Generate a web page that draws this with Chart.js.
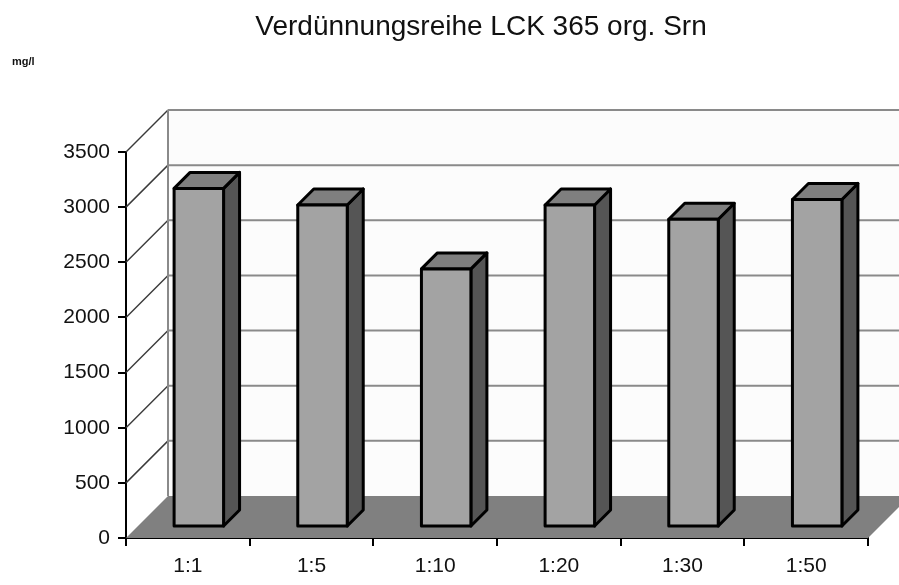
<!DOCTYPE html>
<html>
<head>
<meta charset="utf-8">
<title>Verdünnungsreihe LCK 365 org. Srn</title>
<script src="https://cdn.jsdelivr.net/npm/chart.js@4.4.1/dist/chart.umd.min.js"></script>
<style>
    html, body { margin: 0; padding: 0; background: #ffffff; }
    #wrap { width: 899px; height: 585px; }
</style>
</head>
<body>
<div id="wrap"><canvas id="chartVerd" width="899" height="585"></canvas></div>
<script>
// Verdünnungsstufen und gemessene Werte (mg/l)
const categories = ['1:1', '1:5', '1:10', '1:20', '1:30', '1:50'];
const values = [3070, 2920, 2340, 2920, 2790, 2970];
const yTicks = [0, 500, 1000, 1500, 2000, 2500, 3000, 3500];

const chartTitle = 'Verdünnungsreihe LCK 365 org. Srn';
const unitLabel = 'mg/l';

// Tiefe des Diagramms (Wand) und Lage der Säulen in der Tiefe
const DEPTH = 42;
const BAR_SHIFT = 11;
const BAR_DEPTH = 16;

// Wände, Boden und Gitterlinien in Pseudo-3D
const wallsPlugin = {
    id: 'walls',
    beforeDatasetsDraw(chart) {
        const ctx = chart.ctx;
        const x = chart.scales.x;
        const y = chart.scales.y;
        const left = x.left, right = x.right;
        const y0 = y.getPixelForValue(0);
        const yTop = y.getPixelForValue(yTicks[yTicks.length - 1]);

        ctx.save();
        // Rückwand
        ctx.fillStyle = '#fcfcfc';
        ctx.beginPath();
        ctx.moveTo(left + DEPTH, yTop - DEPTH);
        ctx.lineTo(right + DEPTH, yTop - DEPTH);
        ctx.lineTo(right + DEPTH, y0 - DEPTH);
        ctx.lineTo(left + DEPTH, y0 - DEPTH);
        ctx.closePath();
        ctx.fill();

        // Gitterlinien: schräg auf der Seitenwand, waagerecht an der Rückwand
        yTicks.forEach(function(v) {
            const py = y.getPixelForValue(v);
            if (v > 0) {
                ctx.strokeStyle = '#3a3a3a';
                ctx.lineWidth = 1.5;
                ctx.beginPath();
                ctx.moveTo(left, py);
                ctx.lineTo(left + DEPTH, py - DEPTH);
                ctx.stroke();
                ctx.strokeStyle = '#8a8a8a';
                ctx.lineWidth = 2;
                ctx.beginPath();
                ctx.moveTo(left + DEPTH, py - DEPTH);
                ctx.lineTo(right + DEPTH, py - DEPTH);
                ctx.stroke();
            }
        });

        // linke Kante der Rückwand
        ctx.strokeStyle = '#8a8a8a';
        ctx.lineWidth = 2;
        ctx.beginPath();
        ctx.moveTo(left + DEPTH, yTop - DEPTH);
        ctx.lineTo(left + DEPTH, y0 - DEPTH);
        ctx.stroke();

        // Boden
        ctx.fillStyle = '#808080';
        ctx.beginPath();
        ctx.moveTo(left, y0);
        ctx.lineTo(right, y0);
        ctx.lineTo(right + DEPTH, y0 - DEPTH);
        ctx.lineTo(left + DEPTH, y0 - DEPTH);
        ctx.closePath();
        ctx.fill();
        ctx.restore();
    },
    afterDatasetsDraw(chart) {
        const ctx = chart.ctx;
        const meta = chart.getDatasetMeta(0);
        ctx.save();
        ctx.lineJoin = 'round';
        ctx.lineWidth = 3;
        ctx.strokeStyle = '#000000';
        meta.data.forEach(function(bar) {
            const w = bar.width;
            const x1 = bar.x - w / 2 + BAR_SHIFT;
            const x2 = bar.x + w / 2 + BAR_SHIFT;
            const top = bar.y - BAR_SHIFT;
            const bottom = bar.base - BAR_SHIFT;
            const d = BAR_DEPTH;

            // Seitenfläche
            ctx.fillStyle = '#555555';
            ctx.beginPath();
            ctx.moveTo(x2, top);
            ctx.lineTo(x2 + d, top - d);
            ctx.lineTo(x2 + d, bottom - d);
            ctx.lineTo(x2, bottom);
            ctx.closePath();
            ctx.fill();
            ctx.stroke();

            // Deckfläche
            ctx.fillStyle = '#7f7f7f';
            ctx.beginPath();
            ctx.moveTo(x1, top);
            ctx.lineTo(x1 + d, top - d);
            ctx.lineTo(x2 + d, top - d);
            ctx.lineTo(x2, top);
            ctx.closePath();
            ctx.fill();
            ctx.stroke();

            // Vorderseite
            ctx.fillStyle = '#a3a3a3';
            ctx.fillRect(x1, top, w, bottom - top);
            ctx.strokeRect(x1, top, w, bottom - top);
        });
        ctx.restore();
    },
    afterDraw(chart) {
        const ctx = chart.ctx;
        ctx.save();
        ctx.fillStyle = '#111111';
        ctx.textAlign = 'center';
        ctx.textBaseline = 'middle';
        ctx.font = '28px "Liberation Sans", Arial, sans-serif';
        ctx.fillText(chartTitle, 481, 27);

        ctx.textAlign = 'left';
        ctx.font = 'bold 11px "Liberation Sans", Arial, sans-serif';
        ctx.fillText(unitLabel, 12, 62);
        ctx.restore();
    }
};

document.addEventListener('DOMContentLoaded', function() {
    const canvas = document.getElementById('chartVerd');

    new Chart(canvas, {
        type: 'bar',
        data: {
            labels: categories,
            datasets: [{
                label: 'mg/l',
                data: values,
                backgroundColor: 'rgba(0,0,0,0)',
                borderWidth: 0,
                categoryPercentage: 1.0,
                barPercentage: 0.4
            }]
        },
        options: {
            responsive: false,
            animation: false,
            layout: {
                padding: { top: 152, right: 31, bottom: 0, left: 0 }
            },
            plugins: {
                legend: { display: false },
                title: { display: false },
                tooltip: { enabled: false }
            },
            scales: {
                x: {
                    afterFit: function(scale) { scale.height = 47; },
                    grid: {
                        drawOnChartArea: false,
                        offset: true,
                        color: '#000000',
                        lineWidth: 2,
                        tickLength: 8
                    },
                    border: { color: '#000000', width: 2 },
                    ticks: {
                        color: '#111111',
                        padding: 8,
                        font: { family: '"Liberation Sans", Arial, sans-serif', size: 21 }
                    }
                },
                y: {
                    min: 0,
                    max: 3500,
                    afterFit: function(scale) { scale.width = 126; },
                    afterBuildTicks: function(scale) {
                        scale.ticks = yTicks.map(function(v) { return { value: v }; });
                    },
                    grid: {
                        drawOnChartArea: false,
                        color: '#000000',
                        lineWidth: 2,
                        tickLength: 8
                    },
                    border: { color: '#000000', width: 2 },
                    ticks: {
                        color: '#111111',
                        padding: 8,
                        callback: function(value) { return String(value); },
                        font: { family: '"Liberation Sans", Arial, sans-serif', size: 21 }
                    }
                }
            }
        },
        plugins: [wallsPlugin]
    });
});
</script>
</body>
</html>
